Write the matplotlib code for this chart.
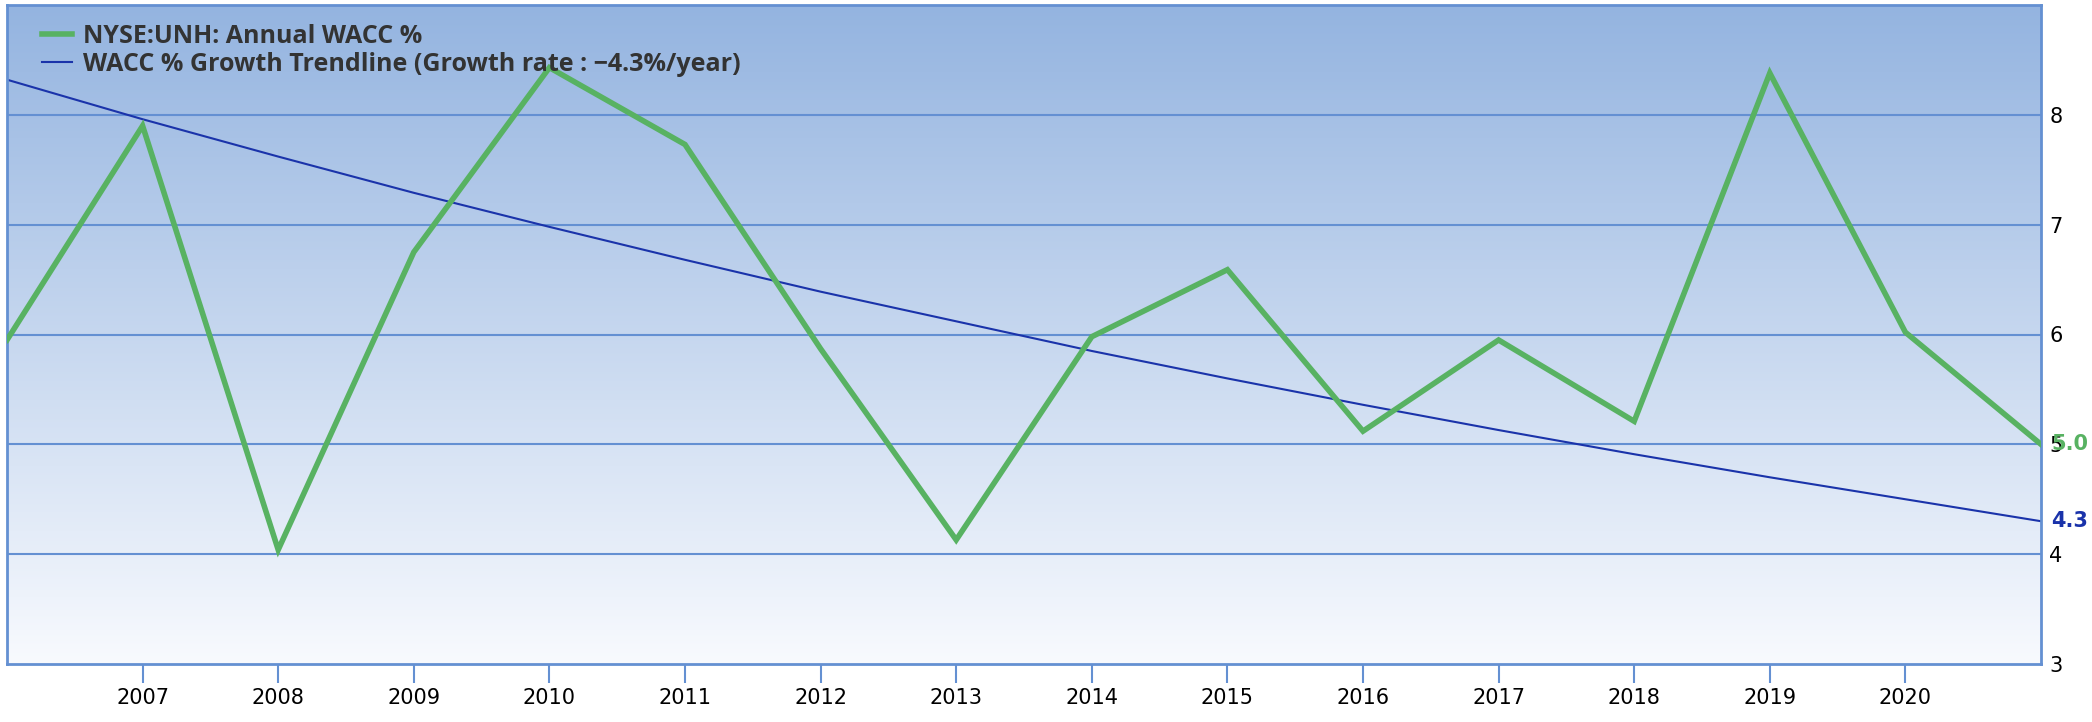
import numpy as np
import matplotlib
matplotlib.use("Agg")
import matplotlib.pyplot as plt
from matplotlib.colors import LinearSegmentedColormap

# annual WACC % for NYSE:UNH
years = [2006, 2007, 2008, 2009, 2010, 2011, 2012, 2013, 2014, 2015,
         2016, 2017, 2018, 2019, 2020, 2021]
wacc = [5.95, 7.90, 4.04, 6.75, 8.43, 7.73, 5.87, 4.13, 5.98, 6.59,
        5.12, 5.95, 5.21, 8.38, 6.02, 5.00]

# growth trendline (-4.3%/year), values read at each year
trend = [8.32, 7.96, 7.62, 7.29, 6.98, 6.68, 6.39, 6.12, 5.85, 5.60,
         5.36, 5.13, 4.91, 4.70, 4.50, 4.30]

tick_years = list(range(2007, 2021))
y_ticks = [3, 4, 5, 6, 7, 8]

wacc_label = "NYSE:UNH: Annual WACC %"
trend_label = "WACC % Growth Trendline (Growth rate : \u22124.3%/year)"

green = "#58b262"
navy = "#1a33aa"
frame = "#6490d2"

W, H = 2092, 722
fig = plt.figure(figsize=(W / 100, H / 100), dpi=100)
ax = fig.add_axes([7 / W, 1 - 664 / H, (2041 - 7) / W, (664 - 5) / H])

ax.set_xlim(2006, 2021)
ax.set_ylim(3, 9)

# vertical background gradient
cmap = LinearSegmentedColormap.from_list("bg", ["#f8fafe", "#94b4e0"])
grad = np.linspace(0, 1, 256).reshape(-1, 1)
ax.imshow(grad, cmap=cmap, origin="lower", aspect="auto",
          extent=[2006, 2021, 3, 9], zorder=0)

for v in y_ticks[1:]:
    ax.axhline(v, color=frame, linewidth=1.5, zorder=1)

ax.plot(years, wacc, color=green, linewidth=4, solid_joinstyle="miter",
        label=wacc_label, zorder=3)
ax.plot(years, trend, color=navy, linewidth=1.5, label=trend_label, zorder=2)

for s in ax.spines.values():
    s.set_color(frame)
    s.set_linewidth(2)

ax.set_xticks(tick_years)
ax.set_xticklabels([str(y) for y in tick_years])
ax.tick_params(axis="x", direction="out", length=14, width=1.5, color=frame,
               labelsize=15, pad=3)
ax.yaxis.tick_right()
ax.set_yticks(y_ticks)
ax.tick_params(axis="y", length=0, labelsize=15, pad=6)

ax.annotate(f"{wacc[-1]:.1f}", xy=(1, wacc[-1]), xycoords=("axes fraction", "data"),
            xytext=(10, 0), textcoords="offset pixels", va="center", ha="left",
            color=green, fontsize=15, fontweight="bold")
ax.annotate(f"{trend[-1]:.1f}", xy=(1, trend[-1]), xycoords=("axes fraction", "data"),
            xytext=(10, 0), textcoords="offset pixels", va="center", ha="left",
            color=navy, fontsize=15, fontweight="bold")

leg = ax.legend(loc="upper left", bbox_to_anchor=(35 / 2034, 1 - 19 / 659),
                frameon=False, borderpad=0, borderaxespad=0,
                handlelength=1.2, handletextpad=0.45, labelspacing=0.12,
                prop={"family": "Open Sans", "weight": "bold", "size": 18})
for t in leg.get_texts():
    t.set_color("#333333")

fig.savefig("out.png", dpi=100)
